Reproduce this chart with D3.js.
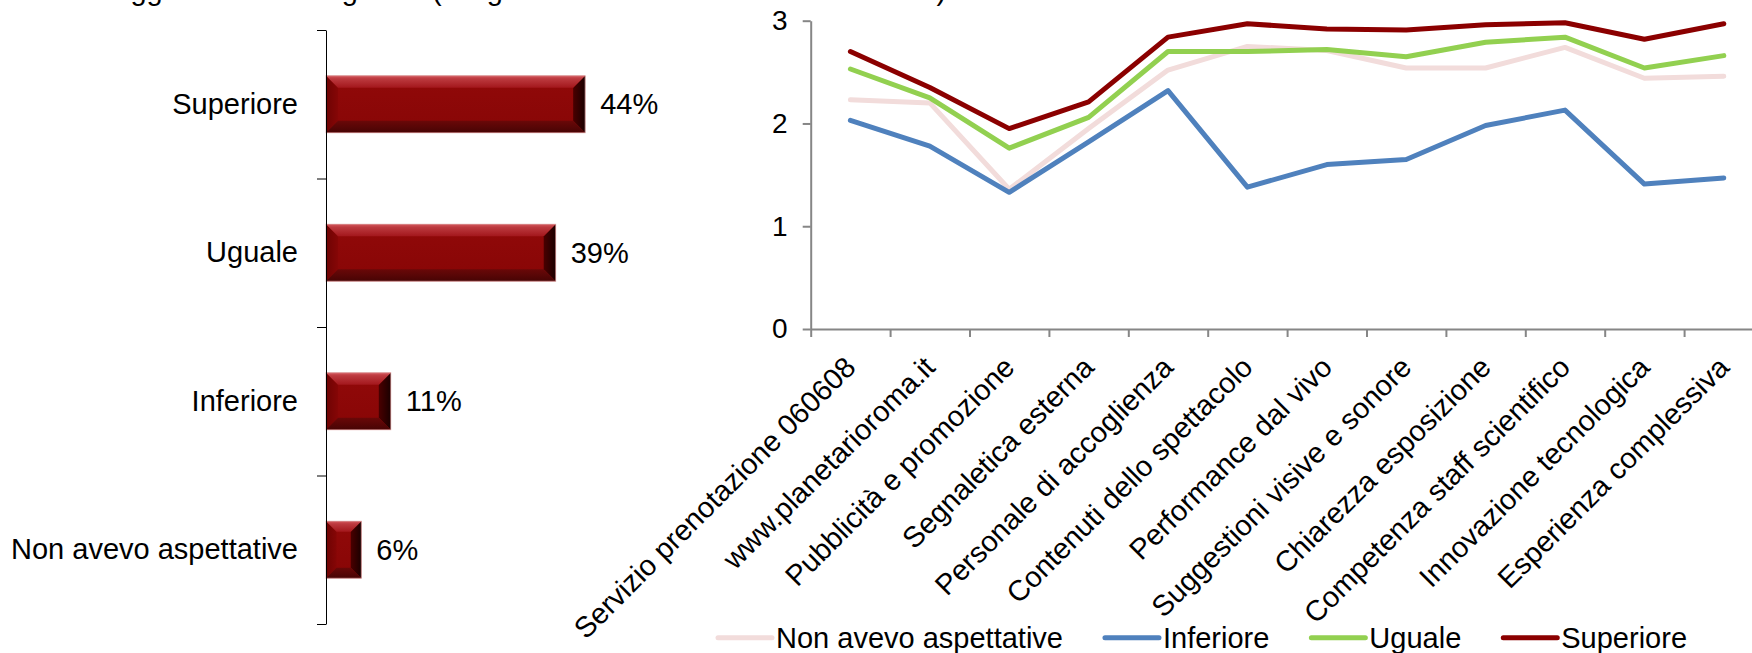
<!DOCTYPE html>
<html>
<head>
<meta charset="utf-8">
<script src="https://cdn.jsdelivr.net/npm/d3@7/dist/d3.min.js"></script>
<style>
  html, body { margin: 0; padding: 0; background: #fff; overflow: hidden; }
  svg { display: block; font-family: "Liberation Sans", Arial, sans-serif; }
</style>
</head>
<body>
<svg id="chart" width="1752" height="653"></svg>
<script>
// ---- Data ----
const titleText = "Soggiorno e visita: giudizi (sul giudizio medio attribuito alle attività)";

// Distribution of answers (left, bar chart)
const barCategories = ["Superiore", "Uguale", "Inferiore", "Non avevo aspettative"];
const barValues = [44, 39, 11, 6];
const barValueLabels = ["44%", "39%", "11%", "6%"];

// Average rating per aspect (right, line chart)
const aspects = [
  "Servizio prenotazione 060608",
  "www.planetarioroma.it",
  "Pubblicità e promozione",
  "Segnaletica esterna",
  "Personale di accoglienza",
  "Contenuti dello spettacolo",
  "Performance dal vivo",
  "Suggestioni visive e sonore",
  "Chiarezza esposizione",
  "Competenza staff scientifico",
  "Innovazione tecnologica",
  "Esperienza complessiva"
];
const seriesNames = ["Non avevo aspettative", "Inferiore", "Uguale", "Superiore"];
const nonAvevo  = [2.23, 2.20, 1.36, 1.95, 2.52, 2.75, 2.71, 2.54, 2.54, 2.74, 2.44, 2.46];
const inferiore = [2.03, 1.78, 1.33, 1.82, 2.32, 1.38, 1.60, 1.65, 1.98, 2.13, 1.41, 1.47];
const uguale    = [2.53, 2.25, 1.76, 2.06, 2.70, 2.70, 2.72, 2.65, 2.79, 2.84, 2.54, 2.66];
const superiore = [2.70, 2.35, 1.95, 2.21, 2.84, 2.97, 2.92, 2.91, 2.96, 2.98, 2.82, 2.97];
const seriesColors = ["#F2DCDB", "#4F81BD", "#92D050", "#8B0000"];
const yTicks = [0, 1, 2, 3];

const series = seriesNames.map((name, i) => ({
  name,
  color: seriesColors[i],
  values: [nonAvevo, inferiore, uguale, superiore][i]
}));

const svg = d3.select("#chart");
const FONT = 29;

// ---- Title (runs off the top edge) ----
svg.append("text")
  .attr("x", 95).attr("y", 0)
  .attr("font-size", FONT)
  .attr("fill", "#000")
  .text(titleText);

// ---- Bar chart ----
const barY = d3.scaleBand()
  .domain(barCategories)
  .range([30, 624])
  .paddingInner(0.616)
  .paddingOuter(0.308);
const barX = d3.scaleLinear().domain([0, 50]).range([326, 620.5]);

const defs = svg.append("defs");
function grad(id, x2, y2, stops) {
  const g = defs.append("linearGradient").attr("id", id)
    .attr("x1", 0).attr("y1", 0).attr("x2", x2).attr("y2", y2);
  stops.forEach(([o, c]) => g.append("stop").attr("offset", o).attr("stop-color", c));
}
grad("bevTop", 0, 1, [[0, "#D4575C"], [0.25, "#BC3A3F"], [1, "#A3171C"]]);
grad("bevBottom", 0, 1, [[0, "#6A0808"], [1, "#470404"]]);
grad("bevLeft", 1, 0, [[0, "#6E0303"], [1, "#860606"]]);
grad("bevRight", 1, 0, [[0, "#4A0000"], [1, "#1A0000"]]);
grad("face", 0, 1, [[0, "#910909"], [1, "#880606"]]);

// bevelled bars: a flat face framed by four shaded edges
svg.append("g").attr("class", "bars")
  .selectAll("g").data(barCategories).join("g")
  .each(function(cat, i) {
    const g = d3.select(this);
    const x0 = barX(0), x1 = barX(barValues[i]);
    const y0 = barY(cat), y1 = y0 + barY.bandwidth();
    const w = x1 - x0;
    const b = Math.min(12, w * 0.3);
    const poly = pts => pts.map(p => p.join(",")).join(" ");
    g.append("rect").attr("x", x0).attr("y", y0).attr("width", w).attr("height", y1 - y0)
      .attr("fill", "url(#face)");
    g.append("polygon").attr("points", poly([[x0, y0], [x0 + b, y0 + b], [x0 + b, y1 - b], [x0, y1]]))
      .attr("fill", "url(#bevLeft)");
    g.append("polygon").attr("points", poly([[x1, y0], [x1 - b, y0 + b], [x1 - b, y1 - b], [x1, y1]]))
      .attr("fill", "url(#bevRight)");
    g.append("polygon").attr("points", poly([[x0, y0], [x1, y0], [x1 - b, y0 + b], [x0 + b, y0 + b]]))
      .attr("fill", "url(#bevTop)");
    g.append("polygon").attr("points", poly([[x0, y1], [x1, y1], [x1 - b, y1 - b], [x0 + b, y1 - b]]))
      .attr("fill", "url(#bevBottom)");
    g.append("rect").attr("x", x0).attr("y", y0).attr("width", w).attr("height", y1 - y0)
      .attr("fill", "none").attr("stroke", "#E3A9A9").attr("stroke-width", 1).attr("stroke-opacity", 0.7);
  });

// value labels
svg.append("g").selectAll("text").data(barCategories).join("text")
  .attr("x", (d, i) => barX(barValues[i]) + 15)
  .attr("y", d => barY(d) + barY.bandwidth() / 2)
  .attr("dy", "0.35em")
  .attr("font-size", FONT)
  .text((d, i) => barValueLabels[i]);

// category axis: labels at band centres, tick marks at band boundaries
const barCatAxis = svg.append("g").attr("transform", "translate(326,0)")
  .call(d3.axisLeft(barY).tickSize(0).tickPadding(28));
barCatAxis.select(".domain").remove();
barCatAxis.selectAll("text").attr("font-size", FONT).attr("fill", "#000")
  .style("font-family", "Liberation Sans, Arial, sans-serif");

const barBounds = d3.scaleLinear().domain([0, barCategories.length]).range([30, 624]);
const barTickAxis = svg.append("g").attr("transform", "translate(326,0)")
  .call(d3.axisLeft(barBounds).tickValues(d3.range(barCategories.length + 1))
    .tickFormat("").tickSize(9).tickSizeOuter(0));
barTickAxis.selectAll("path, line").attr("stroke", "#000").attr("stroke-width", 1);

// ---- Line chart ----
const lx0 = 810.7, step = 79.4;
const x = d3.scaleBand().domain(aspects).range([lx0, lx0 + step * aspects.length]);
const xBounds = d3.scaleLinear().domain([0, aspects.length]).range([lx0, lx0 + step * aspects.length]);
const y = d3.scaleLinear().domain([0, 3]).range([329, 20.7]);

const yAxis = svg.append("g").attr("transform", `translate(${lx0},0)`)
  .call(d3.axisLeft(y).tickValues(yTicks).tickFormat(d3.format("d")).tickSize(8).tickSizeOuter(0).tickPadding(15));
yAxis.selectAll("path, line").attr("stroke", "#868686").attr("stroke-width", 2);
yAxis.selectAll("text").attr("font-size", 28).attr("fill", "#000")
  .style("font-family", "Liberation Sans, Arial, sans-serif");

const xAxis = svg.append("g").attr("transform", `translate(0,${y(0)})`)
  .call(d3.axisBottom(xBounds).tickValues(d3.range(aspects.length + 1)).tickFormat("").tickSize(8).tickSizeOuter(0));
xAxis.selectAll("path, line").attr("stroke", "#868686").attr("stroke-width", 2);

// rotated category labels
svg.append("g").selectAll("text").data(aspects).join("text")
  .attr("transform", d => `translate(${x(d) + x.bandwidth() / 2 + 7},${y(0) + 40}) rotate(-45)`)
  .attr("text-anchor", "end")
  .attr("font-size", FONT)
  .text(d => d);

const line = d3.line()
  .x((v, i) => x(aspects[i]) + x.bandwidth() / 2)
  .y(v => y(v));

svg.append("g").selectAll("path").data(series).join("path")
  .attr("d", s => line(s.values))
  .attr("fill", "none")
  .attr("stroke", s => s.color)
  .attr("stroke-width", 5)
  .attr("stroke-linejoin", "round")
  .attr("stroke-linecap", "round");

// ---- Legend ----
const legend = svg.append("g");
let lxPos = 718;
series.forEach(s => {
  const g = legend.append("g");
  g.append("line").attr("x1", lxPos).attr("x2", lxPos + 54)
    .attr("y1", 637.7).attr("y2", 637.7)
    .attr("stroke", s.color).attr("stroke-width", 5).attr("stroke-linecap", "round");
  const t = g.append("text").attr("x", lxPos + 58).attr("y", 648)
    .attr("font-size", FONT).text(s.name);
  lxPos += 58 + t.node().getComputedTextLength() + 42;
});
</script>
</body>
</html>
